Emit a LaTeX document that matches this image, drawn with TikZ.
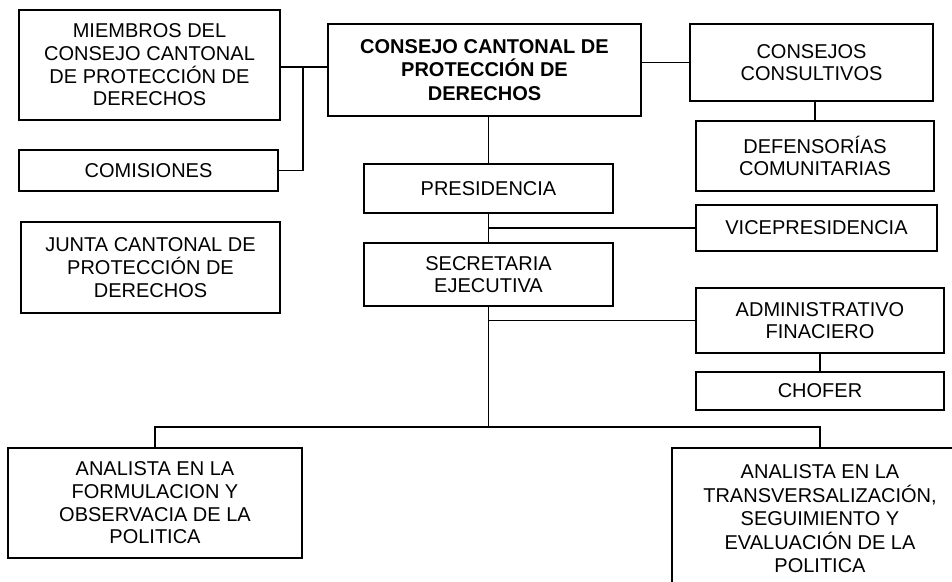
\documentclass[tikz,border=0pt]{standalone}
\usepackage{fontspec}
\setmainfont{Liberation Sans}
\begin{document}
\begin{tikzpicture}[x=1pt,y=-1pt]
        \tikzstyle{every node}=[draw,line width=1.5pt,align=center,inner sep=2pt,font=\fontsize{20}{22.7}\selectfont]
        \tikzstyle{conector}=[line width=1.6pt]
        \useasboundingbox (0,0) rectangle (952,581);
        \clip (0,0) rectangle (952,581);
        \node[minimum width=261pt,minimum height=110pt] (miembros) at (149.5,65) {MIEMBROS DEL\\CONSEJO CANTONAL\\DE PROTECCIÓN DE\\DERECHOS};
        \node[minimum width=259pt,minimum height=41pt] (comisiones) at (148.5,170.5) {COMISIONES};
        \node[minimum width=259pt,minimum height=91pt] (junta) at (150.5,267.5) {JUNTA CANTONAL DE\\PROTECCIÓN DE\\DERECHOS};
        \node[minimum width=313pt,minimum height=92pt,font=\fontsize{20}{23.5}\selectfont\bfseries] (consejo) at (484.5,70) {CONSEJO CANTONAL DE\\PROTECCIÓN DE\\DERECHOS};
        \node[minimum width=243pt,minimum height=77pt] (consultivos) at (811.5,62.5) {CONSEJOS\\CONSULTIVOS};
        \node[minimum width=238pt,minimum height=70pt] (defensorias) at (815,156) {DEFENSORÍAS\\COMUNITARIAS};
        \node[minimum width=241pt,minimum height=46pt] (vice) at (816.5,228) {VICEPRESIDENCIA};
        \node[minimum width=249pt,minimum height=49pt] (presidencia) at (488.5,188.5) {PRESIDENCIA};
        \node[minimum width=249pt,minimum height=63pt] (secretaria) at (488.5,274.5) {SECRETARIA\\EJECUTIVA};
        \node[minimum width=248pt,minimum height=65pt] (admin) at (820,320.5) {ADMINISTRATIVO\\FINACIERO};
        \node[minimum width=248pt,minimum height=38pt] (chofer) at (820,391) {CHOFER};
        \node[minimum width=294pt,minimum height=110pt] (analista1) at (155,503) {ANALISTA EN LA\\FORMULACION Y\\OBSERVACIA DE LA\\POLITICA};
        \node[minimum width=296pt,minimum height=142pt,font=\fontsize{20}{23.5}\selectfont] (analista2) at (820,519) {ANALISTA EN LA\\TRANSVERSALIZACIÓN,\\SEGUIMIENTO Y\\EVALUACIÓN DE LA\\POLITICA};
        \coordinate (union) at (303,67);
        \coordinate (bus) at (488.5,427);
        \draw[conector] (miembros.east |- union) -- (union -| consejo.west);
        \draw[conector] (comisiones.east) -| (union);
        \draw[conector] (consultivos.west) -- (consultivos.west -| consejo.east);
        \draw[conector] (defensorias.north) -- (defensorias.north |- consultivos.south);
        \draw[conector] (consejo.south -| presidencia.north) -- (presidencia.north);
        \draw[conector] (presidencia.south) -- (secretaria.north);
        \draw[conector] (vice.west) -- (vice.west -| presidencia.south);
        \draw[conector] (secretaria.south) -- (bus);
        \draw[conector] (admin.west) -- (admin.west -| secretaria.south);
        \draw[conector] (admin.south) -- (chofer.north);
        \draw[conector] (analista1.north) |- (bus) -| (analista2.north);
\end{tikzpicture}
\end{document}
